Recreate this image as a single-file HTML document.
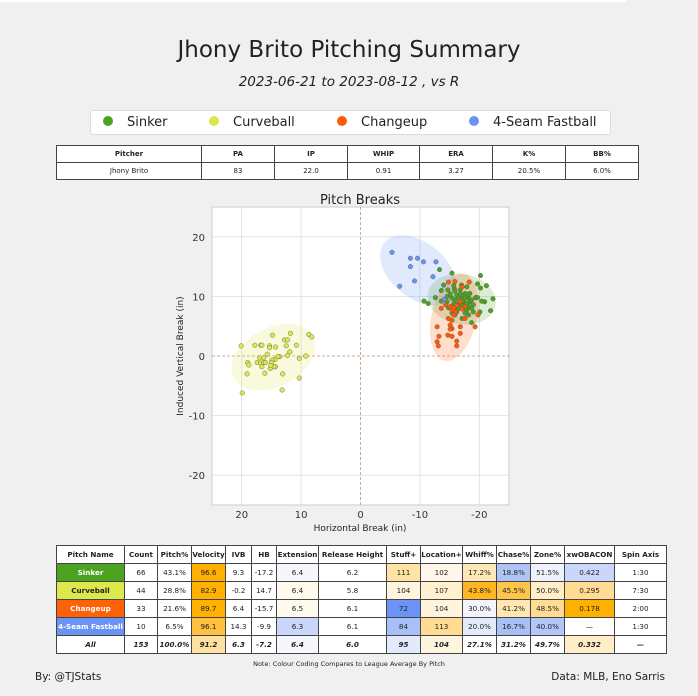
<!DOCTYPE html>
<html><head><meta charset="utf-8">
<style>
body{margin:0;width:698px;height:696px;background:#f0f0f0;font-family:"DejaVu Sans","Liberation Sans",sans-serif;position:relative;overflow:hidden;color:#222}
.abs{position:absolute}
table{border-collapse:collapse;table-layout:fixed;position:absolute;background:#fff}
td{border:1px solid #444;text-align:center;padding:0;overflow:hidden;white-space:nowrap}
#t1 td{height:16px;font-size:7px}
#t1 tr:first-child td{font-weight:bold}
#t2 td{height:17px;font-size:7.2px}
#t2 tr:first-child td{font-weight:bold}
#t2 tr:last-child td{font-weight:bold;font-style:italic}
.nm{font-weight:bold;color:#fff}
</style></head><body>
<div class="abs" style="left:0;top:0;width:626px;height:2px;background:#fff"></div>
<div class="abs" style="left:0;width:698px;top:37px;text-align:center;font-size:23px">Jhony Brito Pitching Summary</div>
<div class="abs" style="left:0;width:698px;top:74px;text-align:center;font-size:13.5px;font-style:italic">2023-06-21 to 2023-08-12 , vs R</div>
<div class="abs" style="left:90px;top:110px;width:519px;height:23px;background:#fff;border:1px solid #ddd;border-radius:3px;font-size:13px">
 <span class="abs" style="left:12px;top:4px"><span style="display:inline-block;width:10px;height:10px;border-radius:50%;background:#4ba31f;margin-right:14px"></span>Sinker</span>
 <span class="abs" style="left:118px;top:4px"><span style="display:inline-block;width:10px;height:10px;border-radius:50%;background:#dbe74c;margin-right:14px"></span>Curveball</span>
 <span class="abs" style="left:246px;top:4px"><span style="display:inline-block;width:10px;height:10px;border-radius:50%;background:#ff5b06;margin-right:14px"></span>Changeup</span>
 <span class="abs" style="left:378px;top:4px"><span style="display:inline-block;width:10px;height:10px;border-radius:50%;background:#6a93f6;margin-right:14px"></span>4-Seam Fastball</span>
</div>
<table id="t1" style="left:56px;top:145px;width:583px">
<colgroup><col style="width:145px"><col style="width:73px"><col style="width:73px"><col style="width:72px"><col style="width:73px"><col style="width:73px"><col style="width:73px"></colgroup>
<tr><td>Pitcher</td><td>PA</td><td>IP</td><td>WHIP</td><td>ERA</td><td>K%</td><td>BB%</td></tr>
<tr><td>Jhony Brito</td><td>83</td><td>22.0</td><td>0.91</td><td>3.27</td><td>20.5%</td><td>6.0%</td></tr>
</table>

<svg class="abs" style="left:0;top:0" width="698" height="540">
 <text x="360" y="204" text-anchor="middle" font-size="13" fill="#222">Pitch Breaks</text>
 <rect x="212" y="207" width="297" height="298" fill="#fff" stroke="#ccc"/>
 <g id="grid"></g><g id="ell"></g><g id="pts"></g><g id="ticks"></g>
 <text x="360" y="531" text-anchor="middle" font-size="9" fill="#222">Horizontal Break (in)</text>
 <text x="183" y="356" text-anchor="middle" font-size="9" fill="#222" transform="rotate(-90 183 356)">Induced Vertical Break (in)</text>
</svg>

<table id="t2" style="left:56px;top:545px;width:610px">
<colgroup><col style="width:68px"><col style="width:33px"><col style="width:34px"><col style="width:34px"><col style="width:26px"><col style="width:25px"><col style="width:42px"><col style="width:68px"><col style="width:34px"><col style="width:42px"><col style="width:34px"><col style="width:34px"><col style="width:34px"><col style="width:50px"><col style="width:52px"></colgroup>
<tr><td>Pitch Name</td><td>Count</td><td>Pitch%</td><td>Velocity</td><td>IVB</td><td>HB</td><td>Extension</td><td>Release Height</td><td>Stuff+</td><td>Location+</td><td>Whiff%</td><td>Chase%</td><td>Zone%</td><td>xwOBACON</td><td>Spin Axis</td></tr>
<tr><td class="nm" style="background:#4ba321">Sinker</td><td>66</td><td>43.1%</td><td style="background:#ffb000">96.6</td><td>9.3</td><td>-17.2</td><td style="background:#f5f7fd">6.4</td><td>6.2</td><td style="background:#ffe3a5">111</td><td style="background:#fff8ea">102</td><td style="background:#ffe8b8">17.2%</td><td style="background:#afc3f7">18.8%</td><td style="background:#eef2fc">51.5%</td><td style="background:#cad7fa">0.422</td><td>1:30</td></tr>
<tr><td class="nm" style="background:#dce84c;color:#222">Curveball</td><td>44</td><td>28.8%</td><td style="background:#ffb000">82.9</td><td>-0.2</td><td>14.7</td><td style="background:#fffaee">6.4</td><td>5.8</td><td style="background:#fff4de">104</td><td style="background:#fff0d0">107</td><td style="background:#ffb622">43.8%</td><td style="background:#ffc44b">45.5%</td><td style="background:#ffeec8">50.0%</td><td style="background:#ffdc92">0.295</td><td>7:30</td></tr>
<tr><td class="nm" style="background:#ff6108">Changeup</td><td>33</td><td>21.6%</td><td style="background:#ffb000">89.7</td><td>6.4</td><td>-15.7</td><td style="background:#fffaee">6.5</td><td>6.1</td><td style="background:#6c94f6">72</td><td style="background:#fff4de">104</td><td style="background:#f3f5fd">30.0%</td><td style="background:#ffe6b2">41.2%</td><td style="background:#ffdc92">48.5%</td><td style="background:#ffb000">0.178</td><td>2:00</td></tr>
<tr><td class="nm" style="background:#6a93f6">4-Seam Fastball</td><td>10</td><td>6.5%</td><td style="background:#ffc13f">96.1</td><td>14.3</td><td>-9.9</td><td style="background:#cad7fa">6.3</td><td>6.1</td><td style="background:#a9bff7">84</td><td style="background:#ffdc92">113</td><td style="background:#e3eafc">20.0%</td><td style="background:#a9bff7">16.7%</td><td style="background:#b2c6f8">40.0%</td><td>—</td><td>1:30</td></tr>
<tr><td>All</td><td>153</td><td>100.0%</td><td style="background:#ffe2a0">91.2</td><td>6.3</td><td>-7.2</td><td style="background:#f5f7fd">6.4</td><td>6.0</td><td style="background:#e3eafc">95</td><td style="background:#fff4de">104</td><td>27.1%</td><td>31.2%</td><td>49.7%</td><td style="background:#ffeec8">0.332</td><td>—</td></tr>
</table>
<div class="abs" style="left:0;width:698px;top:660px;text-align:center;font-size:6.5px">Note: Colour Coding Compares to League Average By Pitch</div>
<div class="abs" style="left:35px;top:671px;font-size:10.5px">By: @TJStats</div>
<div class="abs" style="right:33px;top:671px;font-size:10.5px">Data: MLB, Eno Sarris</div>

<script>
const xTicks=[20,10,0,-10,-20];
const yTicks=[20,10,0,-10,-20];
const sinkerPts=[[-13.3,14.5],[-15.4,13.9],[-20.2,13.5],[-19.7,12.1],[-21.2,11.8],[-20.2,11.4],[-17.0,11.9],[-15.8,11.3],[-14.7,11.1],[-13.6,11.0],[-12.6,9.8],[-10.7,9.2],[-11.4,8.8],[-13.6,9.2],[-15.9,10.9],[-16.2,10.2],[-16.8,10.0],[-17.6,10.5],[-18.2,9.7],[-18.4,9.1],[-18.7,9.4],[-17.9,8.8],[-16.5,8.8],[-17.1,8.6],[-17.6,8.3],[-15.9,9.4],[-16.5,9.7],[-15.4,9.7],[-14.6,9.1],[-14.8,8.1],[-19.0,7.4],[-20.1,7.4],[-20.9,9.1],[-22.3,9.6],[-19.4,9.8],[-19.7,9.8],[-20.4,9.2],[-21.9,7.6],[-17.9,7.7],[-16.2,7.4],[-17.1,6.3],[-18.2,6.9],[-18.7,5.6],[-17.6,7.2],[-15.7,8.0],[-17.3,9.2],[-18.2,8.3],[-16.8,11.1],[-15.7,11.8],[-14.0,11.9],[-17.9,11.6],[-19.0,8.6],[-15.9,6.9],[-18.4,10.5],[-16.8,10.4],[-15.1,10.4],[-17.3,10.0],[-15.4,7.2],[-16.5,8.0],[-18.7,8.0],[-17.6,9.7],[-18.2,10.3],[-16.2,8.6],[-17.1,9.2],[-14.6,10.0],[-15.7,8.8]];
const curvePts=[[20.1,1.7],[17.8,1.8],[16.8,1.8],[16.6,1.8],[15.3,1.7],[15.3,1.4],[14.3,1.5],[14.8,3.5],[12.8,2.7],[12.3,2.7],[11.8,3.8],[12.5,1.7],[10.8,1.8],[8.7,3.6],[8.2,3.2],[11.9,0.7],[12.3,0.1],[10.3,-0.4],[9.2,0],[13.6,-0.1],[13.9,-0.1],[14.4,-0.6],[14.9,-0.7],[15.7,0.3],[16.3,-0.3],[17.0,-0.3],[17.4,-1.1],[16.8,-1.2],[16.3,-1.1],[16.0,-1.1],[15.0,-1.1],[14.3,-1.8],[14.6,-1.8],[15.2,-2.1],[15.1,-1.6],[16.6,-1.8],[19.0,-1.1],[18.8,-1.5],[19.1,-3.0],[16.1,-2.9],[13.1,-3.0],[10.3,-3.7],[19.9,-6.2],[13.2,-5.7]];
const changePts=[[-14.8,12.4],[-15.9,12.5],[-18.3,12.4],[-17.1,11.6],[-14.3,8.6],[-15.1,8.3],[-13.6,8.0],[-15.4,7.7],[-16.0,7.4],[-17.1,7.9],[-17.6,8.3],[-16.2,8.5],[-16.8,9.1],[-15.7,6.9],[-14.8,6.3],[-15.4,6.0],[-17.6,6.3],[-19.8,6.9],[-19.3,4.9],[-16.8,4.9],[-15.1,5.2],[-12.9,4.9],[-15.4,4.6],[-14.7,3.5],[-15.4,3.3],[-16.8,3.8],[-13.2,3.3],[-12.9,2.4],[-13.1,1.7],[-16.2,2.5],[-16.2,1.7],[-15.1,4.5],[-15.7,8.1]];
const fastPts=[[-5.3,17.4],[-8.4,16.4],[-9.6,16.4],[-10.6,15.8],[-12.7,15.8],[-8.4,15.0],[-12.2,13.3],[-9.1,12.6],[-6.6,11.7],[-14.1,9.5]];
const NS='http://www.w3.org/2000/svg';
const L=212,R=509,T=207,B=505;
const sx=v=>L+(25-v)/50*(R-L);
const sy=v=>T+(25-v)/50*(B-T);
function mk(tag,attrs,parent){const e=document.createElementNS(NS,tag);for(const k in attrs)e.setAttribute(k,attrs[k]);parent.appendChild(e);return e;}
const grid=document.getElementById('grid'),ticks=document.getElementById('ticks');
xTicks.forEach(t=>{const l=mk('line',{x1:sx(t),x2:sx(t),y1:T,y2:B,stroke:t===0?'#c8906f':'#ddd','stroke-width':0.8,'stroke-dasharray':t===0?'3,2':'none'},grid);
 
 const tx=mk('text',{x:sx(t),y:B+13,'text-anchor':'middle','font-size':10,fill:'#333'},ticks);tx.textContent=t;
 });
yTicks.forEach(t=>{const l=mk('line',{x1:L,x2:R,y1:sy(t),y2:sy(t),stroke:t===0?'#c8906f':'#ddd','stroke-width':0.8,'stroke-dasharray':t===0?'3,2':'none'},grid);
 
 const tx=mk('text',{x:L-7,y:sy(t)+4,'text-anchor':'end','font-size':10,fill:'#333'},ticks);tx.textContent=t;
 });
const series=[['sinker',sinkerPts,'#4ba31f'],['curveball',curvePts,'#dbe74c'],['changeup',changePts,'#ff5b06'],['fastball',fastPts,'#6a93f6']];
const ell=document.getElementById('ell'),pts=document.getElementById('pts');
series.forEach(([n,d,c])=>{
 const p=d.map(q=>[sx(q[0]),sy(q[1])]);const m=p.length;
 const mx=p.reduce((a,q)=>a+q[0],0)/m,my=p.reduce((a,q)=>a+q[1],0)/m;
 let a=0,b=0,cc=0;p.forEach(q=>{const dx=q[0]-mx,dy=q[1]-my;a+=dx*dx;b+=dx*dy;cc+=dy*dy;});a/=m;b/=m;cc/=m;
 const tr=(a+cc)/2,df=Math.sqrt(((a-cc)/2)**2+b*b);const l1=tr+df,l2=tr-df;
 const ang=Math.atan2(l1-a,b)*180/Math.PI;
 const e=mk('ellipse',{cx:mx,cy:my,rx:2.45*Math.sqrt(l1),ry:2.45*Math.sqrt(Math.max(l2,0.5)),transform:`rotate(${isNaN(ang)?0:ang} ${mx} ${my})`,fill:c,'fill-opacity':0.2},ell);
 
});
series.forEach(([n,d,c])=>{d.forEach(q=>{const ci=mk('circle',{cx:sx(q[0]),cy:sy(q[1]),r:2.3,fill:c,stroke:'#555','stroke-width':0.4},pts);
 });});
</script>
</body></html>
